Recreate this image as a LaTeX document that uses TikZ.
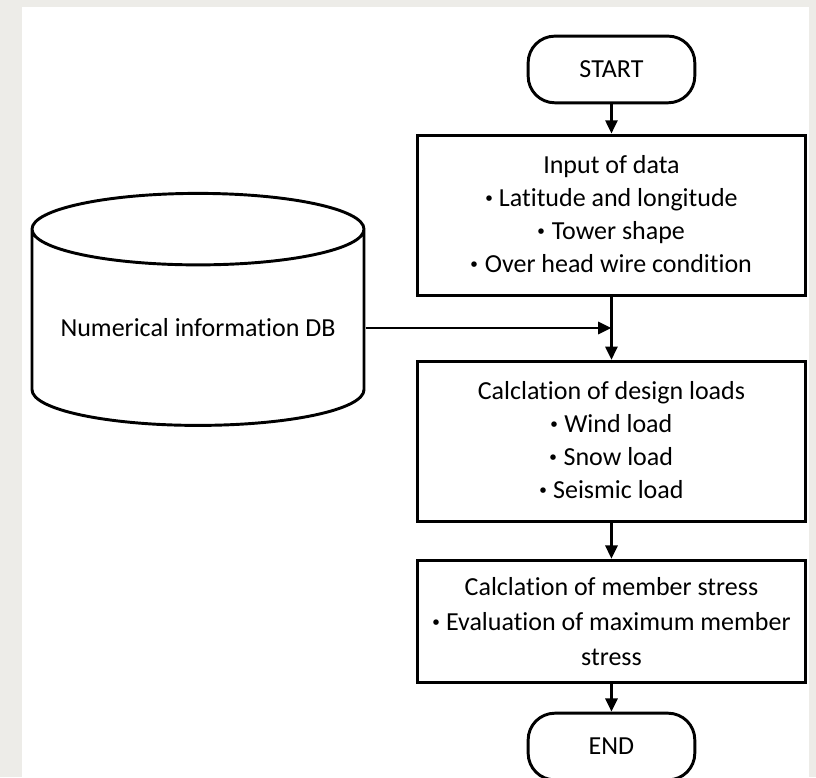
\documentclass[tikz,border=0pt]{standalone}
\usepackage{fontspec}
\setmainfont{Carlito}[Ligatures=NoCommon]
\newfontfamily\cjk{Noto Sans CJK JP}
\usetikzlibrary{positioning, shapes.geometric, arrows.meta, backgrounds}
\definecolor{panelgray}{RGB}{237,236,232}
\newcommand{\mdot}{\hspace{-0.35em}\raisebox{-0.08em}{\cjk ・}\hspace{-0.12em}}

\begin{document}
\begin{tikzpicture}[>={Triangle[width=9pt, length=10pt]}, line width=2.2pt,
  every node/.style={font=\fontsize{19.5pt}{24.75pt}\selectfont},
  terminal/.style={draw, rounded corners=20pt, fill=white, minimum width=125pt, minimum height=50pt},
  process/.style={draw, fill=white, minimum width=291pt, minimum height=120pt, align=center, inner sep=0pt},
  database/.style={draw, fill=white, cylinder, shape border rotate=90, aspect=0.26,
    minimum width=249pt, minimum height=174pt, inner sep=0pt}]
  \fill[panelgray] (0,0) rectangle (612pt,-582.75pt);
  \fill[white] (16.5pt,-5.25pt) rectangle (606.75pt,-582.75pt);
  \useasboundingbox (0,0) rectangle (612pt,-582.75pt);

  \node[terminal] (start) at (458.6pt,-52.1pt) {START};
  \node[process, below=22pt of start] (input) {Input of data\\ \mdot Latitude and longitude\\ \mdot Tower shape\\ \mdot Over head wire condition};
  \node[process, below=47.5pt of input] (loads) {Calclation of design loads\\ \mdot Wind load\\ \mdot Snow load\\ \mdot Seismic load};
  \node[process, below=27pt of loads, minimum height=92pt, font=\fontsize{19.5pt}{26.25pt}\selectfont] (stress) {Calclation of member stress\\ \mdot Evaluation of maximum member\\ stress};
  \node[terminal, below=20.5pt of stress] (finish) {END};
  \node[database] (db) at (148.5pt,-246pt) {Numerical information DB};
  \coordinate (join) at (db.east -| input.south);

  \draw[->] (start) -- (input);
  \draw[->] (input) -- (loads);
  \draw[->] (db.east) -- (join);
  \draw[->] (loads) -- (stress);
  \draw[->] (stress) -- (finish);
\end{tikzpicture}
\end{document}
